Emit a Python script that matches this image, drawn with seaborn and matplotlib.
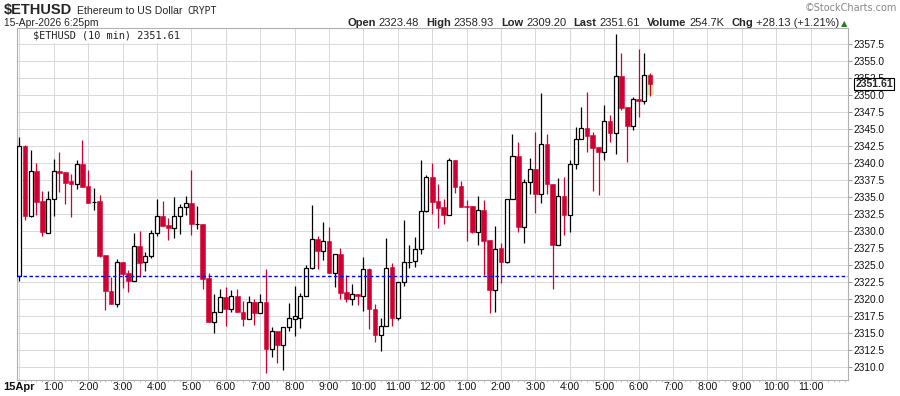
import numpy as np
import matplotlib
matplotlib.use("Agg")
import matplotlib.pyplot as plt
import matplotlib.transforms as mtrans
import seaborn as sns

# ---- data : 10 min candles, 15-Apr 0:00 -> 18:20
opens = [2323.48, 2342.5, 2332.25, 2338.8, 2334.4, 2329.8, 2334.7, 2338.8, 2338.7, 2337.3,
         2337.0, 2339.85, 2336.6, 2334.3, 2334.4, 2326.5, 2321.2, 2319.3, 2325.5, 2323.8,
         2322.75, 2327.75, 2325.4, 2326.3, 2329.7, 2332.2, 2330.9, 2330.5, 2332.2, 2333.6,
         2334.2, 2331.1, 2331.1, 2323.1, 2316.7, 2318.1, 2320.3, 2318.6, 2320.4, 2318.1,
         2317.06, 2319.66, 2318.0, 2319.66, 2312.7, 2315.4, 2313.2, 2315.9, 2317.16, 2317.3,
         2320.5, 2324.66, 2328.9, 2327.1, 2328.6, 2323.9, 2326.6, 2321.0, 2320.0, 2320.7,
         2320.5, 2324.5, 2318.5, 2314.8, 2316.1, 2324.7, 2317.3, 2322.6, 2325.45, 2325.6,
         2327.45, 2333.0, 2338.0, 2334.4, 2333.5, 2332.4, 2340.4, 2336.6, 2333.65, 2333.7,
         2329.95, 2333.1, 2328.7, 2321.4, 2327.5, 2325.5, 2334.7, 2341.0, 2330.6, 2337.2,
         2339.1, 2335.5, 2342.75, 2337.0, 2328.0, 2335.1, 2332.4, 2339.8, 2343.6, 2345.1,
         2344.1, 2342.35, 2341.7, 2346.2, 2344.4, 2352.75, 2348.2, 2345.5, 2349.4, 2349.2,
         2352.9]
highs = [2343.9, 2342.7, 2341.9, 2340.0, 2335.9, 2335.9, 2340.6, 2341.6, 2338.7, 2338.4,
         2340.4, 2343.4, 2339.0, 2336.3, 2335.3, 2326.5, 2323.3, 2325.9, 2325.5, 2324.3,
         2329.75, 2330.0, 2326.9, 2330.1, 2334.8, 2334.4, 2332.0, 2335.0, 2334.0, 2335.1,
         2339.0, 2333.7, 2331.1, 2323.9, 2320.8, 2321.5, 2321.8, 2321.4, 2321.5, 2319.7,
         2320.5, 2320.1, 2320.8, 2324.4, 2315.9, 2315.4, 2315.9, 2319.4, 2321.9, 2320.9,
         2325.0, 2333.9, 2329.3, 2331.3, 2330.6, 2326.6, 2327.6, 2323.6, 2322.3, 2320.7,
         2326.2, 2324.6, 2319.3, 2317.3, 2329.0, 2325.25, 2322.6, 2331.6, 2327.9, 2329.2,
         2340.4, 2338.3, 2339.95, 2336.9, 2334.7, 2340.7, 2340.5, 2337.35, 2334.6, 2333.7,
         2335.2, 2334.6, 2328.7, 2330.8, 2328.2, 2334.7, 2344.3, 2343.1, 2337.7, 2340.8,
         2344.6, 2350.3, 2344.3, 2337.0, 2337.8, 2337.9, 2340.4, 2345.25, 2348.2, 2350.4,
         2344.6, 2342.35, 2348.5, 2347.1, 2358.93, 2356.2, 2348.2, 2349.75, 2356.8, 2356.2,
         2353.3]
lows = [2322.7, 2331.7, 2332.1, 2332.4, 2329.3, 2329.8, 2332.25, 2335.7, 2334.0, 2332.1,
        2336.2, 2336.5, 2334.2, 2333.1, 2326.2, 2318.4, 2319.3, 2318.9, 2321.7, 2321.1,
        2322.7, 2323.3, 2324.2, 2326.1, 2329.3, 2330.8, 2328.7, 2329.0, 2329.6, 2332.35,
        2329.4, 2330.3, 2321.5, 2316.6, 2315.0, 2318.1, 2316.1, 2318.1, 2318.1, 2316.1,
        2317.06, 2316.2, 2318.0, 2309.2, 2311.5, 2310.6, 2309.6, 2315.4, 2314.6, 2315.8,
        2320.5, 2324.5, 2324.5, 2325.7, 2323.9, 2321.8, 2320.0, 2319.6, 2319.2, 2319.1,
        2318.3, 2315.6, 2313.7, 2312.4, 2316.1, 2316.1, 2317.0, 2322.0, 2324.66, 2324.75,
        2326.7, 2332.8, 2332.5, 2330.5, 2331.1, 2332.4, 2335.6, 2333.6, 2328.6, 2329.8,
        2328.0, 2323.6, 2318.0, 2318.1, 2322.4, 2325.3, 2334.7, 2329.9, 2328.3, 2335.5,
        2332.7, 2334.2, 2335.4, 2321.5, 2328.0, 2329.4, 2329.9, 2339.1, 2343.6, 2341.7,
        2335.9, 2335.3, 2340.5, 2343.1, 2341.4, 2347.8, 2340.2, 2344.9, 2346.8, 2348.7,
        2349.9]
closes = [2342.5, 2332.25, 2338.8, 2334.3, 2329.9, 2334.7, 2338.8, 2338.6, 2337.1, 2337.0,
          2339.85, 2336.5, 2334.2, 2334.3, 2326.3, 2321.2, 2319.3, 2325.5, 2323.7, 2322.7,
          2327.75, 2325.3, 2326.3, 2329.7, 2332.2, 2330.8, 2330.5, 2332.2, 2333.6, 2334.2,
          2331.0, 2331.1, 2323.0, 2316.6, 2318.1, 2320.3, 2318.6, 2320.4, 2318.1, 2317.1,
          2319.66, 2318.0, 2319.66, 2312.7, 2315.4, 2313.2, 2315.9, 2317.2, 2317.5, 2320.5,
          2324.66, 2328.9, 2327.1, 2328.6, 2323.9, 2326.6, 2320.9, 2320.0, 2320.7, 2320.4,
          2324.4, 2318.5, 2314.8, 2316.1, 2324.66, 2317.3, 2322.6, 2325.4, 2325.45, 2327.45,
          2333.0, 2338.0, 2334.3, 2333.4, 2332.4, 2340.4, 2336.5, 2333.6, 2333.6, 2329.9,
          2333.1, 2328.6, 2321.4, 2327.45, 2325.5, 2334.7, 2341.0, 2330.6, 2337.2, 2339.1,
          2335.5, 2342.75, 2337.0, 2328.0, 2335.1, 2332.4, 2339.8, 2343.6, 2345.1, 2344.0,
          2342.25, 2341.7, 2346.2, 2344.4, 2352.75, 2348.1, 2345.5, 2349.4, 2349.2, 2352.9,
          2351.61]

prev_close = 2323.48
last_price = 2351.61
hour_labels = ["15Apr", "1:00", "2:00", "3:00", "4:00", "5:00", "6:00", "7:00", "8:00",
               "9:00", "10:00", "11:00", "12:00", "1:00", "2:00", "3:00", "4:00", "5:00",
               "6:00", "7:00", "8:00", "9:00", "10:00", "11:00"]
price_ticks = [2310.0 + 2.5 * k for k in range(20)]

stat_names = ["Open", "High", "Low", "Last", "Volume", "Chg"]
stat_values = ["2323.48", "2358.93", "2309.20", "2351.61", "254.7K", "+28.13 (+1.21%)"]

RED = "#d10032"
W, H = 900, 396

sns.set_theme(style="whitegrid")
plt.rcParams["font.family"] = ["Liberation Sans", "DejaVu Sans"]

fig = plt.figure(figsize=(W / 100, H / 100), dpi=100)
fig.patch.set_facecolor("white")
ax = fig.add_axes([16.7 / W, 1 - 380 / H, (848 - 16.7) / W, (380 - 28.3) / H])
ax.set_facecolor("white")

o = np.array(opens)
c = np.array(closes)
hi = np.array(highs)
lo = np.array(lows)
x = np.arange(len(o))
up = c > o
dn = c < o
flat = c == o

# highlight behind the live candle
ax.bar(x[-1], hi[-1] - lo[-1], bottom=lo[-1], width=1.3, color="#c8f3ae", zorder=1)

# wicks
ax.vlines(x[up | flat], lo[up | flat], hi[up | flat], color="black", lw=0.9, zorder=2)
ax.vlines(x[dn], lo[dn], hi[dn], color=RED, lw=0.9, zorder=2)

# bodies
ax.bar(x[up], (c - o)[up], bottom=o[up], width=0.7, color="white",
       edgecolor="black", linewidth=0.9, zorder=3)
ax.bar(x[dn], (o - c)[dn], bottom=c[dn], width=0.82, color=RED,
       edgecolor=RED, linewidth=0.4, zorder=3)
ax.bar(x[flat], 0.02, bottom=o[flat], width=0.8, color="black",
       edgecolor="black", linewidth=0.8, zorder=3)

# previous close
ax.axhline(prev_close, color="#0000ff", lw=1.0, ls=(0, (2.5, 1.8)), zorder=4)

ax.set_xlim(-0.45, 144.5)
ax.set_ylim(2308.13, 2359.81)

ax.set_xticks(np.arange(0, 6 * len(hour_labels), 6))
ax.set_xticklabels(hour_labels, fontsize=7.5, color="#111111")
ax.get_xticklabels()[0].set_fontweight("bold")
ax.get_xticklabels()[0].set_fontsize(8)
ax.set_xticks(np.arange(0, 145), minor=True)

ax.yaxis.tick_right()
ax.set_yticks(price_ticks)
ax.set_yticklabels([f"{v:.1f}" for v in price_ticks], fontsize=7.3, color="#111111")

ax.grid(True, which="major", color="#dadada", lw=0.75)
ax.grid(False, which="minor")
ax.tick_params(axis="y", which="major", length=3, width=0.6, color="#888888", pad=1)
ax.tick_params(axis="x", which="major", length=0, pad=1.5)
ax.tick_params(axis="x", which="minor", length=1.5, width=0.6, color="#bbbbbb", bottom=True)
for sp in ax.spines.values():
    sp.set_color("#b0b0b0")
    sp.set_linewidth(0.8)

# last price tag on the right axis
tr = mtrans.blended_transform_factory(ax.transAxes, ax.transData)
ax.text(1.009, last_price, f"{last_price:.2f}", transform=tr, fontsize=7.6,
        fontweight="bold", va="center", ha="left", zorder=6,
        bbox=dict(boxstyle="square,pad=0.12", fc="white", ec="black", lw=0.8))

# legend inside the plot
fig.text(33 / W, 1 - 36 / H, "$ETHUSD (10 min) 2351.61", family="DejaVu Sans Mono",
         fontsize=7.4, va="center", ha="left",
         bbox=dict(boxstyle="square,pad=0.15", fc="white", ec="none"))

# header
fig.text(4 / W, 1 - 14 / H, "$ETHUSD", fontsize=10.5, fontweight="bold", va="baseline")
fig.text(77 / W, 1 - 14 / H, "Ethereum to US Dollar", fontsize=7.6, va="baseline")
fig.text(187 / W, 1 - 14 / H, "CRYPT", family="DejaVu Sans Mono", fontsize=7, va="baseline")
fig.text(4 / W, 1 - 26.5 / H, "15-Apr-2026 6:25pm", fontsize=7.4, va="baseline")
fig.text(897 / W, 1 - 11 / H, "\u00a9StockCharts.com", family="DejaVu Sans", fontsize=7,
         color="#888888", ha="right", va="baseline")

# stats line, laid out right to left so it ends before the arrow
rend = fig.canvas.get_renderer()
pieces = []
for name, val in zip(stat_names, stat_values):
    pieces.append((name, True, 3))
    pieces.append((val, False, 7))
texts = []
for s, bold, gap in pieces:
    t = fig.text(0, 1 - 26.5 / H, s, fontsize=8, va="baseline",
                 fontweight="bold" if bold else "normal")
    texts.append((t, t.get_window_extent(renderer=rend).width, gap))
total = sum(w for _, w, _ in texts) + sum(g for _, _, g in texts[:-1])
xpos = 839 - total
for t, w, gap in texts:
    t.set_x(xpos / W)
    xpos += w + gap
fig.text(841 / W, 1 - 26 / H, "\u25b2", fontsize=6, color="#2a7a2a", va="baseline",
         family="DejaVu Sans")

fig.savefig("out.png", dpi=100, facecolor="white")
